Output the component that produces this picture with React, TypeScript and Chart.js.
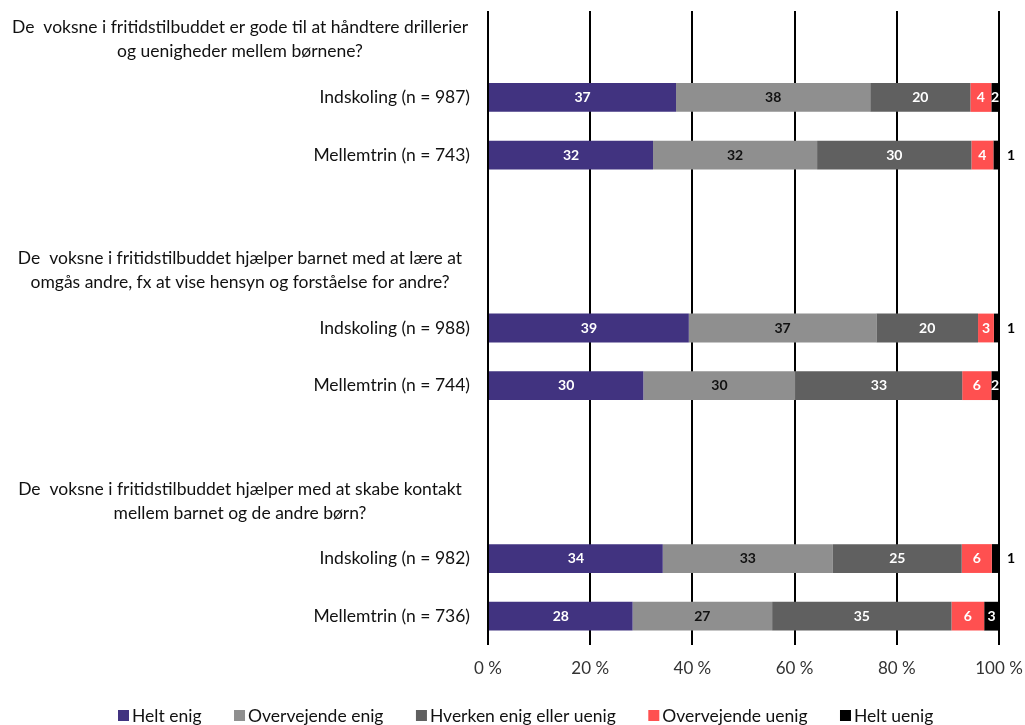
import React, { useEffect, useRef } from "react";
import { Chart, registerables } from "chart.js";

Chart.register(...registerables);

const categories: (string | string[])[] = [
  ["De  voksne i fritidstilbuddet er gode til at håndtere drillerier", "og uenigheder mellem børnene?"],
  "Indskoling (n = 987)",
  "Mellemtrin (n = 743)",
  "",
  ["De  voksne i fritidstilbuddet hjælper barnet med at lære at", "omgås andre, fx at vise hensyn og forståelse for andre?"],
  "Indskoling (n = 988)",
  "Mellemtrin (n = 744)",
  "",
  ["De  voksne i fritidstilbuddet hjælper med at skabe kontakt", "mellem barnet og de andre børn?"],
  "Indskoling (n = 982)",
  "Mellemtrin (n = 736)",
];

const seriesNames = ["Helt enig", "Overvejende enig", "Hverken enig eller uenig", "Overvejende uenig", "Helt uenig"];

const heltEnig = [null, 36.8, 32.3, null, null, 39.3, 30.4, null, null, 34.2, 28.3];
const overvejendeEnig = [null, 38.0, 32.1, null, null, 36.7, 29.8, null, null, 33.3, 27.3];
const hverken = [null, 19.6, 30.2, null, null, 19.9, 32.6, null, null, 25.2, 35.1];
const overvejendeUenig = [null, 4.1, 4.3, null, null, 3.1, 5.7, null, null, 5.9, 6.4];
const heltUenig = [null, 1.5, 1.1, null, null, 1.0, 1.5, null, null, 1.4, 2.9];

const xTicks = [0, 20, 40, 60, 80, 100];

const colors = ["#413380", "#8f8f8f", "#606060", "#ff5050", "#000000"];
const labelColors = ["#ffffff", "#111111", "#ffffff", "#ffffff", "#ffffff"];

const FONT = "Lato";

const labelPlugin = {
  id: "customLabels",
  afterDatasetsDraw(chart: any) {
    const ctx = chart.ctx;
    ctx.save();
    ctx.font = `bold 14px ${FONT}`;
    ctx.textBaseline = "middle";
    ctx.textAlign = "center";
    chart.data.datasets.forEach((ds: any, di: number) => {
      const meta = chart.getDatasetMeta(di);
      meta.data.forEach((el: any, i: number) => {
        const v = ds.data[i];
        if (v === null || v === undefined) return;
        const txt = String(Math.round(v));
        if (v < 1.45) {
          ctx.fillStyle = "#000";
          ctx.fillText(txt, chart.chartArea.right + 12, el.y);
        } else {
          ctx.fillStyle = labelColors[di];
          ctx.fillText(txt, (el.x + el.base) / 2, el.y);
        }
      });
    });
    ctx.restore();
  },
  afterDraw(chart: any) {
    const ctx = chart.ctx;
    const yScale = chart.scales.y;
    const left = chart.chartArea.left;
    ctx.save();
    ctx.font = `17.5px ${FONT}`;
    ctx.fillStyle = "#111111";
    ctx.textBaseline = "middle";
    categories.forEach((lab, i) => {
      const y = yScale.getPixelForValue(i);
      if (Array.isArray(lab)) {
        ctx.textAlign = "center";
        const lh = 24;
        const startY = y - ((lab.length - 1) * lh) / 2;
        lab.forEach((line, j) => ctx.fillText(line, 240, startY + j * lh));
      } else if (lab) {
        ctx.textAlign = "right";
        ctx.fillText(lab, left - 18, y);
      }
    });
    // legend
    ctx.font = `17.5px ${FONT}`;
    ctx.textAlign = "left";
    let x = 118;
    const ly = 716;
    seriesNames.forEach((name, i) => {
      ctx.fillStyle = colors[i];
      ctx.fillRect(x, ly - 6, 11, 11);
      ctx.fillStyle = "#111111";
      ctx.fillText(name, x + 14, ly);
      x += 14 + ctx.measureText(name).width + 32.5;
    });
    ctx.restore();
  },
};

export default function App() {
  const ref = useRef<HTMLCanvasElement>(null);
  useEffect(() => {
    if (!ref.current) return;
    const seriesData = [heltEnig, overvejendeEnig, hverken, overvejendeUenig, heltUenig];
    const chart = new Chart(ref.current, {
      type: "bar",
      data: {
        labels: categories as any,
        datasets: seriesData.map((d, i) => ({
          label: seriesNames[i],
          data: d as any,
          backgroundColor: colors[i],
          borderWidth: 0,
          barPercentage: 0.5,
          categoryPercentage: 1,
        })),
      },
      options: {
        indexAxis: "y",
        animation: false,
        responsive: false,
        maintainAspectRatio: false,
        layout: { padding: { top: 11, right: 26, left: 0, bottom: 0 } },
        plugins: { legend: { display: false }, tooltip: { enabled: false } },
        scales: {
          x: {
            stacked: true,
            min: 0,
            max: 100,
            afterBuildTicks: (scale: any) => {
              scale.ticks = xTicks.map((v) => ({ value: v }));
            },
            afterFit: (scale: any) => {
              scale.height = 80;
              scale.paddingLeft = 0;
              scale.paddingRight = 0;
            },
            grid: { color: "#000", lineWidth: 2, drawTicks: false },
            border: { display: false },
            ticks: {
              padding: 13,
              color: "#333333",
              font: { family: FONT, size: 17 },
              callback: (v: any) => `${v} %`,
            },
          },
          y: {
            stacked: true,
            afterFit: (scale: any) => {
              scale.width = 488;
            },
            grid: { display: false },
            border: { display: false },
            ticks: { display: false },
          },
        },
      },
      plugins: [labelPlugin],
    });
    return () => chart.destroy();
  }, []);
  return (
    <div style={{ position: "fixed", left: 0, top: 0, width: 1025, height: 725, overflow: "hidden", background: "#fff" }}>
      <canvas ref={ref} width={1025} height={725} style={{ display: "block" }} />
    </div>
  );
}
